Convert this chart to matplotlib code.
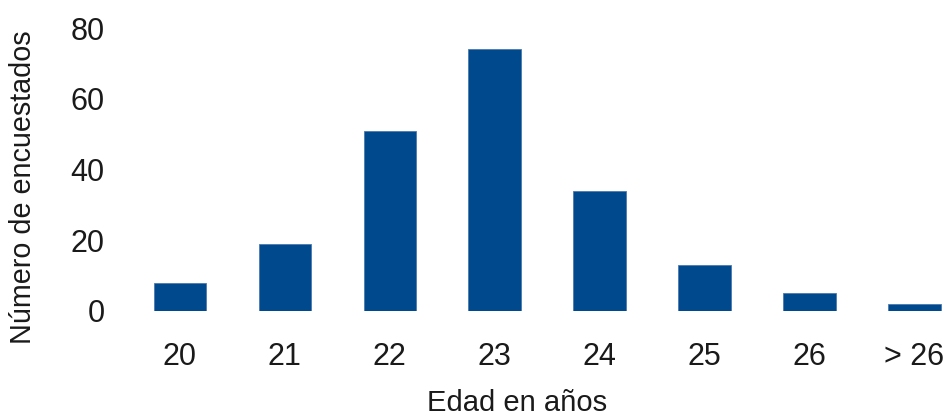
import matplotlib
matplotlib.use("Agg")
import matplotlib.pyplot as plt

categories = ["20", "21", "22", "23", "24", "25", "26", "> 26"]
values = [8, 19, 51, 74, 34, 13, 5, 2]

plt.rcParams['font.family'] = ['Liberation Sans', 'DejaVu Sans']

W, H = 949, 419
fig = plt.figure(figsize=(W / 100, H / 100), dpi=100)
left_px, right_px = 117, 945.8
bottom_px, top_px = 311, 28
ax = fig.add_axes([left_px / W, 1 - bottom_px / H, (right_px - left_px) / W, (bottom_px - top_px) / H])

x = list(range(len(categories)))
ax.bar(x, values, width=0.5, color="#00498c", edgecolor="#4a7ab0", linewidth=0.6)
ax.set_xlim(-0.6, 7.3)
ax.set_ylim(0, 80)
ax.set_xticks(x)
ax.set_xticklabels(categories)
ax.set_yticks([0, 20, 40, 60, 80])
ax.tick_params(axis='both', length=0, labelsize=22, labelcolor="#1a1a1a")
ax.tick_params(axis='y', pad=9)
ax.tick_params(axis='x', pad=22)
for s in ax.spines.values():
    s.set_visible(False)

ax.set_ylabel("Número de encuestados", fontsize=20.7, color="#1a1a1a")
ax.yaxis.set_label_coords(-0.113, 0.436)
ax.yaxis.label.set_va('center')
ax.set_xlabel("Edad en años", fontsize=21, color="#1a1a1a")
ax.xaxis.set_label_coords(0.483, -0.376)
ax.xaxis.label.set_va('bottom')

fig.savefig("out.png", dpi=100)
